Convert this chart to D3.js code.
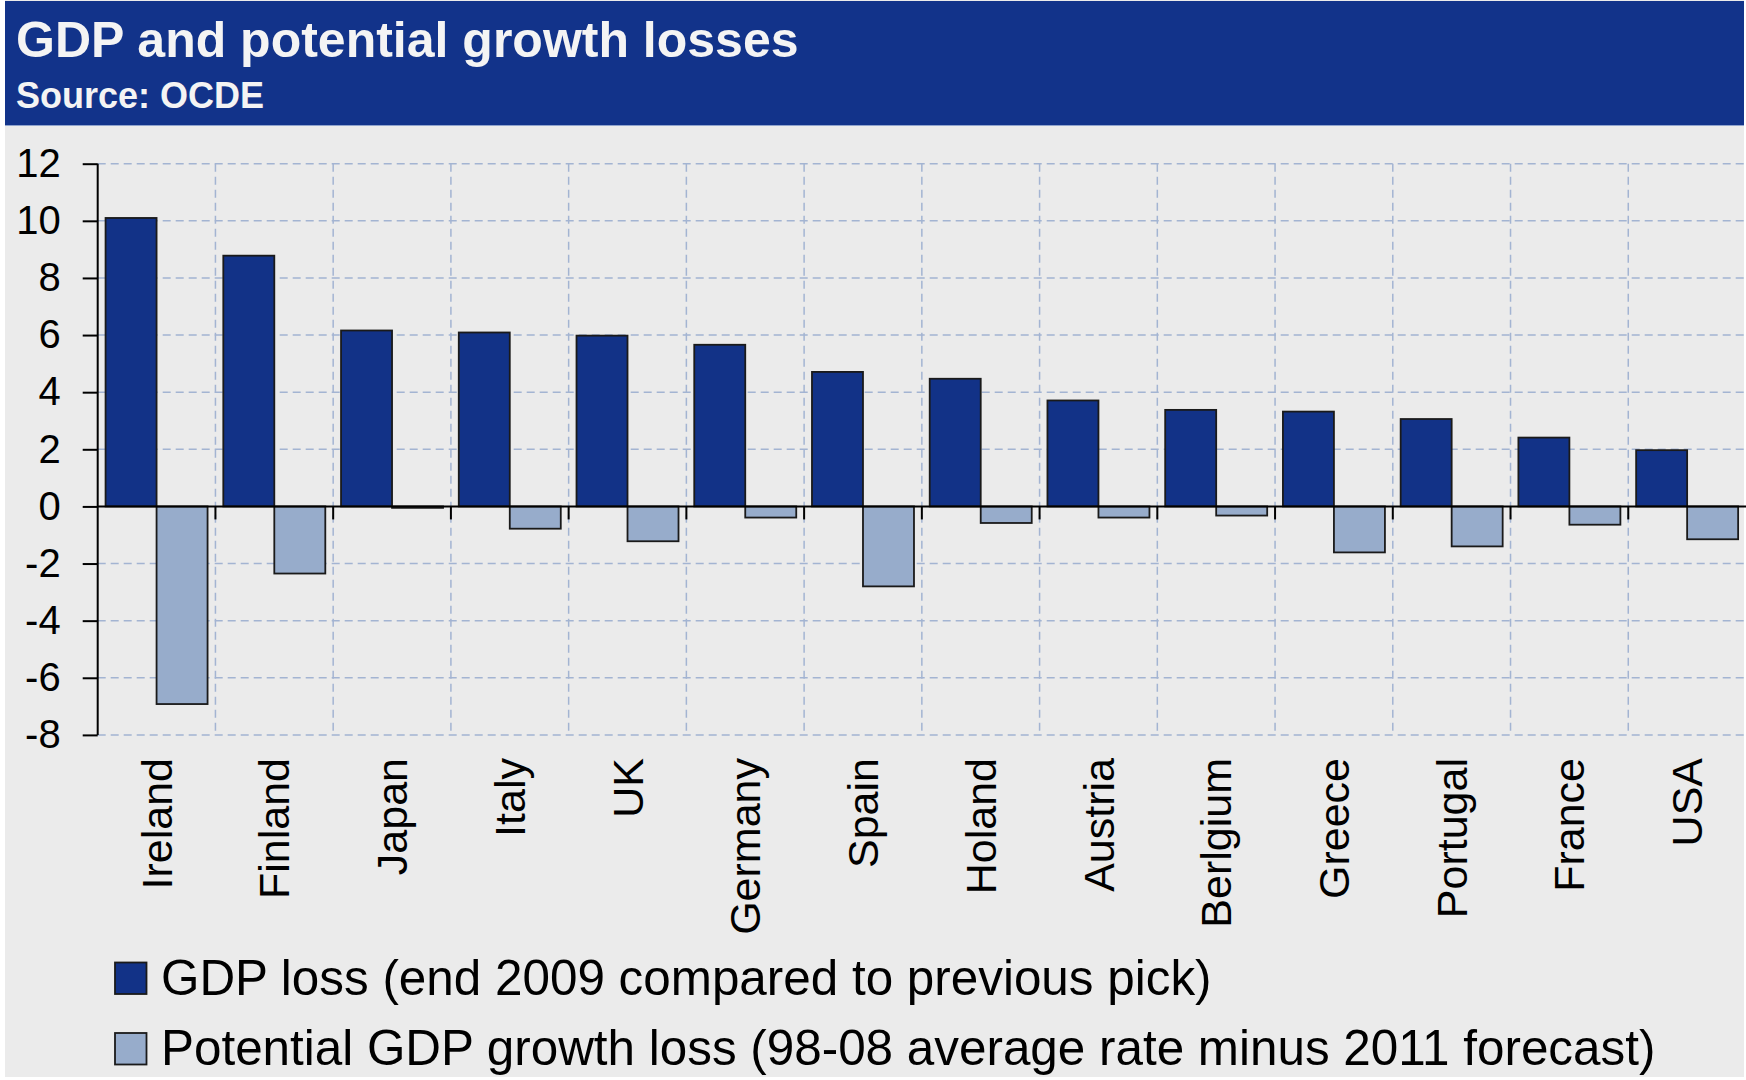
<!DOCTYPE html>
<html>
<head>
<meta charset="utf-8">
<script src="https://cdn.jsdelivr.net/npm/d3@7"></script>
<style>
  html, body { margin: 0; padding: 0; background: #ffffff; }
  svg { display: block; }
  text { font-family: "Liberation Sans", Arial, Helvetica, sans-serif; }
</style>
</head>
<body>
<svg id="chart" width="1746" height="1080"></svg>
<script>
// Countries, ordered by GDP loss
const countries = ["Ireland", "Finland", "Japan", "Italy", "UK", "Germany", "Spain",
                   "Holand", "Austria", "Berlgium", "Greece", "Portugal", "France", "USA"];

// GDP loss, end 2009 vs previous peak (%)
const gdpLoss = [10.1, 8.78, 6.16, 6.09, 5.98, 5.66, 4.71, 4.47, 3.71, 3.38, 3.32, 3.06, 2.41, 1.97];

// Potential GDP growth loss, 98-08 average minus 2011 forecast (pp)
const potentialLoss = [-6.92, -2.35, -0.05, -0.78, -1.22, -0.39, -2.80, -0.58, -0.39, -0.32, -1.61, -1.40, -0.64, -1.15];

const seriesNames = ["GDP loss (end 2009 compared to previous pick)",
                     "Potential GDP growth loss (98-08 average rate minus 2011 forecast)"];
const seriesColors = ["#123287", "#97ACCB"];

const yTicks = [-8, -6, -4, -2, 0, 2, 4, 6, 8, 10, 12];

const W = 1746, H = 1080;
const svg = d3.select("#chart");

// Page background and header band
svg.append("rect").attr("x", 5).attr("y", 0).attr("width", 1739).attr("height", 1077)
  .attr("fill", "#EBEBEB");
svg.append("rect").attr("x", 5).attr("y", 1).attr("width", 1739).attr("height", 124)
  .attr("fill", "#12338A");
svg.append("line").attr("x1", 5).attr("x2", 1744).attr("y1", 125.5).attr("y2", 125.5)
  .attr("stroke", "#8FA3CD").attr("stroke-width", 1);

svg.append("text").attr("x", 16).attr("y", 57)
  .attr("fill", "#F4F4F4").attr("font-size", 50).attr("font-weight", "bold")
  .text("GDP and potential growth losses");
svg.append("text").attr("x", 16).attr("y", 108)
  .attr("fill", "#F4F4F4").attr("font-size", 36).attr("font-weight", "bold")
  .text("Source: OCDE");

// Scales
const x0 = 97.7, x1 = 1746;
const yTop = 163.7, yBottom = 734.9;
const x = d3.scaleBand().domain(countries).range([x0, x1]).paddingInner(0).paddingOuter(0);
const bw = x.bandwidth();
const barW = 51;
const pad = (bw - 2 * barW) / 2;
const xs = d3.scaleBand().domain([0, 1]).range([pad, bw - pad]).padding(0);
const y = d3.scaleLinear().domain([-8, 12]).range([yBottom, yTop]);

const gridColor = "#A3B4D2";
const grid = svg.append("g");

// Horizontal dashed grid
grid.selectAll("line.h").data(yTicks.filter(d => d !== 0)).join("line")
  .attr("class", "h")
  .attr("x1", x0).attr("x2", x1)
  .attr("y1", d => y(d)).attr("y2", d => y(d))
  .attr("stroke", gridColor).attr("stroke-width", 1.5).attr("stroke-dasharray", "8,5");

// Vertical dashed grid at category boundaries
const boundaries = countries.slice(1).map(c => x(c));
grid.selectAll("line.v").data(boundaries).join("line")
  .attr("class", "v")
  .attr("x1", d => d).attr("x2", d => d)
  .attr("y1", yTop).attr("y2", yBottom)
  .attr("stroke", gridColor).attr("stroke-width", 1.5).attr("stroke-dasharray", "8,5");

// Bars
const seriesValues = [gdpLoss, potentialLoss];
const groups = svg.append("g").selectAll("g").data(countries).join("g")
  .attr("transform", c => `translate(${x(c)},0)`);

groups.selectAll("rect").data((c, i) => seriesValues.map((vals, s) => ({ s, v: vals[i] })))
  .join("rect")
  .attr("x", d => xs(d.s))
  .attr("width", xs.bandwidth())
  .attr("y", d => y(Math.max(0, d.v)))
  .attr("height", d => Math.max(1, Math.abs(y(d.v) - y(0))))
  .attr("fill", d => seriesColors[d.s])
  .attr("stroke", "#1A1A1A").attr("stroke-width", 1.8);

// Y axis
const yAxis = d3.axisLeft(y).tickValues(yTicks).tickSize(15).tickSizeOuter(0)
  .tickPadding(22).tickFormat(d => String(d));
const yg = svg.append("g").attr("transform", `translate(${x0},0)`).call(yAxis);
yg.select(".domain").remove();
yg.selectAll(".tick line").attr("stroke", "#000").attr("stroke-width", 2);
yg.selectAll(".tick text").attr("font-size", 40).attr("fill", "#000")
  .attr("font-family", "'Liberation Sans', Arial, sans-serif");
svg.append("line").attr("x1", x0).attr("x2", x0).attr("y1", yTop).attr("y2", yBottom)
  .attr("stroke", "#000").attr("stroke-width", 2);

// Zero line with category boundary ticks
svg.append("line").attr("x1", x0).attr("x2", x1).attr("y1", y(0)).attr("y2", y(0))
  .attr("stroke", "#000").attr("stroke-width", 2);
svg.append("g").selectAll("line").data(boundaries).join("line")
  .attr("x1", d => d).attr("x2", d => d)
  .attr("y1", y(0)).attr("y2", y(0) + 13)
  .attr("stroke", "#000").attr("stroke-width", 2);

// Category labels, rotated
svg.append("g").selectAll("text").data(countries).join("text")
  .attr("transform", c => `translate(${x(c) + bw / 2},758) rotate(-90)`)
  .attr("text-anchor", "end").attr("dy", "0.35em")
  .attr("font-size", 43).attr("fill", "#000")
  .text(c => c);

// Legend
const legend = svg.append("g").selectAll("g").data(seriesNames).join("g")
  .attr("transform", (d, i) => `translate(115,${962.5 + i * 70.5})`);
legend.append("rect").attr("width", 31.5).attr("height", 31.5)
  .attr("fill", (d, i) => seriesColors[i])
  .attr("stroke", "#1A1A1A").attr("stroke-width", 1.8);
legend.append("text").attr("x", 46).attr("y", 32)
  .attr("font-size", 49.4).attr("fill", "#000")
  .text(d => d);
</script>
</body>
</html>
